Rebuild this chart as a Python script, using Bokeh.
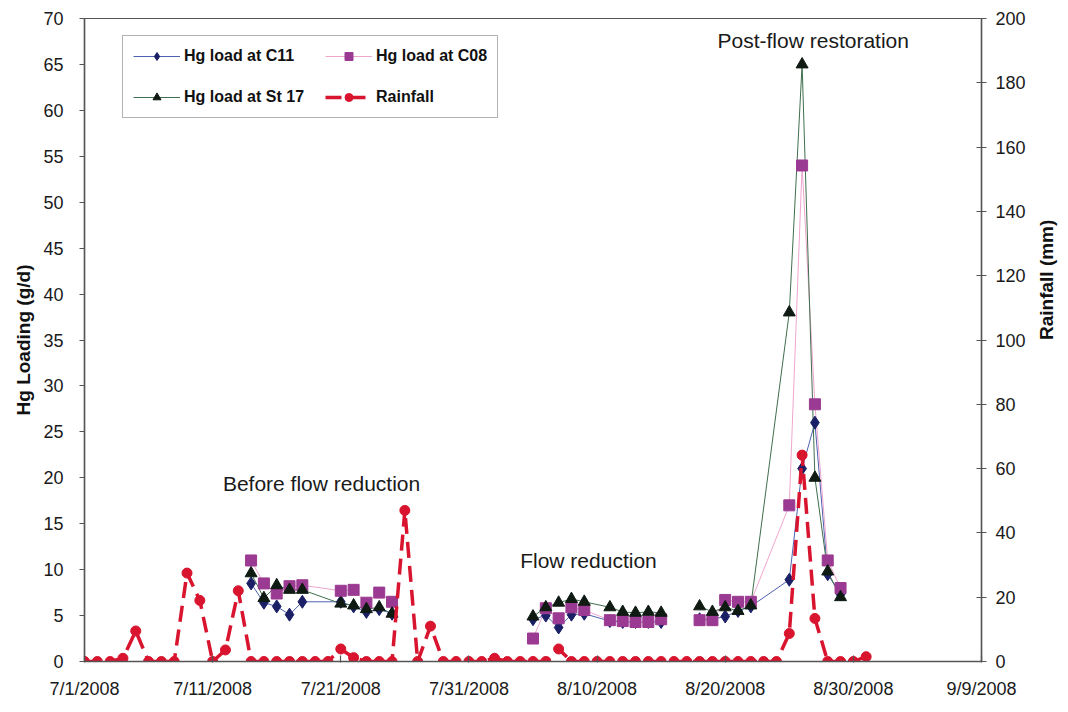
import math
import numpy as np
import pandas as pd
from bokeh.plotting import figure
from bokeh.models import Range1d, LinearAxis, FixedTicker, Legend, LegendItem, Label
from bokeh.embed import file_html
from bokeh.resources import INLINE

# ---------------- data ----------------
start = pd.Timestamp("2008-07-01")

hg_dates = ["2008-07-14", "2008-07-15", "2008-07-16", "2008-07-17", "2008-07-18",
            "2008-07-21", "2008-07-22", "2008-07-23", "2008-07-24", "2008-07-25",
            "2008-07-30",
            "2008-08-05", "2008-08-06", "2008-08-07", "2008-08-08", "2008-08-09",
            "2008-08-11", "2008-08-12", "2008-08-13", "2008-08-14", "2008-08-15",
            "2008-08-16",
            "2008-08-18", "2008-08-19", "2008-08-20", "2008-08-21", "2008-08-22",
            "2008-08-25", "2008-08-26", "2008-08-27", "2008-08-28", "2008-08-29"]

hg_c11 = [8.5, 6.4, 6.0, 5.1, 6.5, 6.5, 6.0, 5.4, 5.7, 5.2,
          None,
          4.6, 5.0, 3.7, 5.1, 5.2, 4.4, 4.3, 4.3, 4.3, 4.3,
          None,
          4.6, 4.6, 4.9, 5.5, 6.0, 8.9, 21.0, 26.0, 9.5, 7.3]

hg_c08 = [11.0, 8.5, 7.4, 8.2, 8.3, 7.7, 7.8, 6.4, 7.5, 6.5,
          None,
          2.5, 5.8, 4.7, 5.9, 5.6, 4.5, 4.4, 4.3, 4.3, 4.6,
          None,
          4.5, 4.5, 6.7, 6.5, 6.5, 17.0, 54.0, 28.0, 11.0, 8.0]

hg_st17 = [9.6, 6.9, 8.3, 7.8, 7.8, 6.3, 6.1, 5.7, 5.9, 5.2,
           None,
           4.9, 5.9, 6.4, 6.8, 6.5, 5.9, 5.4, 5.3, 5.4, 5.3,
           None,
           6.0, 5.4, 5.9, 5.5, 6.1, 38.0, 65.0, 20.0, 9.8, 7.0]

rain_dates = pd.date_range("2008-07-01", periods=62, freq="D")
rainfall = [0, 0, 0, 1.0, 9.5, 0, 0, 0, 27.5, 19.0,
            0, 3.6, 22.0, 0, 0, 0, 0, 0, 0, 0,
            3.9, 1.2, 0, 0, 0, 47.0, 0, 11.0, 0, 0,
            0, 0, 1.0, 0, 0, 0, 0, 3.9, 0, 0,
            0, 0, 0, 0, 0, 0, 0, 0, 0, 0,
            0, 0, 0, 0, 0, 8.7, 64.2, 13.4, 0, 0,
            0, 1.5]

tick_days = [0, 10, 20, 30, 40, 50, 60, 70]
tick_labels = ["7/1/2008", "7/11/2008", "7/21/2008", "7/31/2008",
               "8/10/2008", "8/20/2008", "8/30/2008", "9/9/2008"]


def nan(v):
    return [np.nan if a is None else a for a in v]


hg_x = [(pd.Timestamp(d) - start).days for d in hg_dates]
rain_x = [(d - start).days for d in rain_dates]

FONT = "Liberation Sans"

p = figure(frame_width=897, frame_height=643,
           min_border_left=84, min_border_right=80,
           min_border_top=18, min_border_bottom=44,
           x_range=Range1d(0, 70), y_range=Range1d(0, 70),
           output_backend="svg", toolbar_location=None,
           background_fill_color="white", border_fill_color="white")
p.extra_y_ranges = {"rain": Range1d(0, 200)}
p.xgrid.visible = False
p.ygrid.visible = False
p.outline_line_color = "#555555"
p.outline_line_width = 1.2

# axes
ax = p.xaxis[0]
ax.ticker = FixedTicker(ticks=tick_days)
ax.major_label_overrides = {d: l for d, l in zip(tick_days, tick_labels)}
ax.major_tick_in = 6
ax.major_tick_out = 1
ax.minor_tick_line_color = None
ax.major_label_standoff = 16

ay = p.yaxis[0]
ay.ticker = FixedTicker(ticks=list(range(0, 71, 5)))
ay.major_tick_in = 0
ay.major_tick_out = 5
ay.minor_tick_line_color = None
ay.major_label_standoff = 16
ay.axis_label = "Hg Loading (g/d)"
ay.axis_label_standoff = 6

ry = LinearAxis(y_range_name="rain", ticker=FixedTicker(ticks=list(range(0, 201, 20))))
ry.major_tick_in = 5
ry.major_tick_out = 5
ry.minor_tick_line_color = None
ry.major_label_standoff = 9
ry.axis_label = "Rainfall (mm)"
ry.axis_label_standoff = 18
if "axis_label_orientation" in LinearAxis.properties():
    ry.axis_label_orientation = math.pi / 2
p.add_layout(ry, "right")

for a in (ax, ay, ry):
    a.axis_line_color = "#555555"
    a.axis_line_width = 1.5
    a.major_tick_line_color = "#555555"
    a.major_tick_line_width = 1.2
    a.major_label_text_font = FONT
    a.major_label_text_font_size = "18px"
    a.major_label_text_color = "#1a1a1a"
    a.axis_label_text_font = FONT
    a.axis_label_text_font_size = "19px"
    a.axis_label_text_font_style = "bold"
    a.axis_label_text_color = "#111111"

# series
l_c11 = p.line(hg_x, nan(hg_c11), line_color="#4d62b0", line_width=1)
l_c08 = p.line(hg_x, nan(hg_c08), line_color="#efa6cf", line_width=1)
l_st = p.line(hg_x, nan(hg_st17), line_color="#3f6e4c", line_width=1)

m_c11 = p.scatter(hg_x, nan(hg_c11), marker="diamond", size=13,
                  fill_color="#1b1f66", line_color="#1b1f66")
m_c08 = p.scatter(hg_x, nan(hg_c08), marker="square", size=11,
                  fill_color="#9b3a92", line_color="#9b3a92")
m_st = p.scatter(hg_x, nan(hg_st17), marker="triangle", size=12,
                 fill_color="#0e1a12", line_color="#0e1a12")

l_rain = p.line(rain_x, rainfall, y_range_name="rain", line_color="#d8142e",
                line_width=3.5, line_dash="16 8")
m_rain = p.scatter(rain_x, rainfall, y_range_name="rain", marker="circle", size=10,
                   fill_color="#d8142e", line_color="#d8142e")

legend = Legend(items=[
    LegendItem(label="Hg load at C11", renderers=[l_c11, m_c11]),
    LegendItem(label="Hg load at St 17", renderers=[l_st, m_st]),
    LegendItem(label="Hg load at C08", renderers=[l_c08, m_c08]),
    LegendItem(label="Rainfall", renderers=[l_rain, m_rain]),
], location=(38, 543), ncols=2)
legend.glyph_width = 47
legend.glyph_height = 20
legend.label_height = 20
legend.label_standoff = 4
legend.spacing = 21
legend.padding = 10
legend.margin = 0
legend.label_text_font = FONT
legend.label_text_font_size = "16px"
legend.label_text_font_style = "bold"
legend.label_text_color = "#111111"
legend.border_line_color = "#666666"
legend.border_line_width = 1
legend.background_fill_alpha = 1.0
p.add_layout(legend)

for txt, x, y in [("Before flow reduction", 10.8, 19.4),
                  ("Flow reduction", 34.0, 11.0),
                  ("Post-flow restoration", 49.4, 67.6)]:
    p.add_layout(Label(x=x, y=y, text=txt, text_font=FONT, text_font_size="21px",
                       text_color="#1a1a1a", text_baseline="alphabetic"))

open("out.html", "w").write(file_html(p, INLINE))
